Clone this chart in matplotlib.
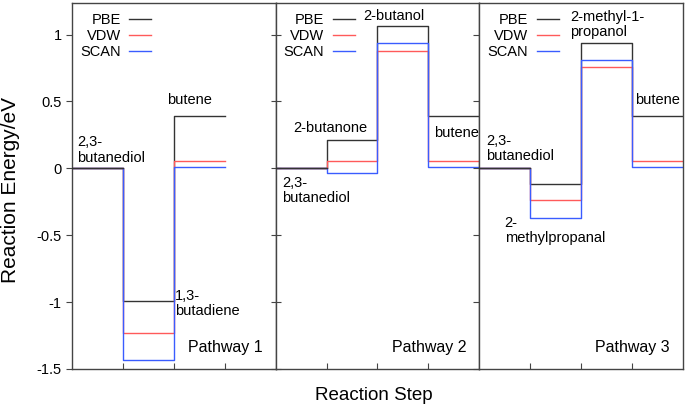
import matplotlib
matplotlib.use("Agg")
import matplotlib.pyplot as plt
import numpy as np

plt.rcParams["font.family"] = ["Liberation Sans", "DejaVu Sans"]

methods = ["PBE", "VDW", "SCAN"]
colors = ["#333333", "#ff5a5a", "#3a5cff"]

# energies per step, one list per method for each pathway
pbe1 = [0.0, -0.99, 0.39]
vdw1 = [0.0, -1.23, 0.057]
scan1 = [0.0, -1.43, 0.01]

pbe2 = [0.0, 0.21, 1.067, 0.39]
vdw2 = [0.0, 0.055, 0.875, 0.057]
scan2 = [0.0, -0.037, 0.94, 0.01]

pbe3 = [0.0, -0.12, 0.94, 0.39]
vdw3 = [0.0, -0.24, 0.76, 0.057]
scan3 = [0.0, -0.37, 0.81, 0.01]

pathways = [
    [pbe1, vdw1, scan1],
    [pbe2, vdw2, scan2],
    [pbe3, vdw3, scan3],
]
pathway_names = ["Pathway 1", "Pathway 2", "Pathway 3"]

# species labels: (x, y, text) in data coords, left aligned, centred vertically
species = [
    [(0.11, 0.137, "2,3-\nbutanediol"),
     (1.86, 0.51, "butene"),
     (2.03, -1.008, "1,3-\nbutadiene")],
    [(0.13, -0.163, "2,3-\nbutanediol"),
     (0.35, 0.305, "2-butanone"),
     (1.73, 1.137, "2-butanol"),
     (3.12, 0.263, "butene")],
    [(0.137, 0.145, "2,3-\nbutanediol"),
     (1.78, 1.075, "2-methyl-1-\npropanol"),
     (3.06, 0.512, "butene"),
     (0.5, -0.467, "2-\nmethylpropanal")],
]

fig = plt.figure(figsize=(6.85, 4.07), dpi=100)
gs = fig.add_gridspec(1, 3, left=0.105, right=0.997, top=0.9926,
                      bottom=0.0934, wspace=0)
axes = [fig.add_subplot(gs[0, i]) for i in range(3)]

for i, ax in enumerate(axes):
    for vals, col, name in zip(pathways[i], colors, methods):
        xs = np.arange(len(vals) + 1)
        ys = vals + [vals[-1]]
        ax.step(xs, ys, where="post", color=col, lw=1.0, label=name)
    # first level drawn in black on top
    ax.plot([0, 1], [pathways[i][0][0]] * 2, color="#333333", lw=1.0, zorder=3)

    for x, y, t in species[i]:
        ax.text(x, y, t, ha="left", va="center", fontsize=10.5,
                linespacing=1.1)
    ax.text(3.74, -1.338, pathway_names[i], ha="right", va="center",
            fontsize=11.5)

    leg = ax.legend(loc="upper left", frameon=False, fontsize=10.5,
                    markerfirst=False, handlelength=1.5, handletextpad=0.6,
                    labelspacing=0.12, borderaxespad=0.3,
                    bbox_to_anchor=(-0.01, 1.0))
    for txt in leg.get_texts():
        txt.set_ha("right")

    ax.set_xlim(0, 4)
    ax.set_ylim(-1.5, 1.236)
    ax.set_xticks([1, 2, 3])
    ax.set_xticklabels([])
    ax.set_yticks([-1.5, -1, -0.5, 0, 0.5, 1])
    ax.tick_params(axis="x", direction="in", length=4, color="#444444")
    for s in ax.spines.values():
        s.set_color("#444444")
        s.set_linewidth(1.0)
    if i == 0:
        ax.tick_params(axis="y", direction="out", length=4, labelsize=10.5,
                       color="#444444")
        ax.set_yticklabels(["-1.5", "-1", "-0.5", "0", "0.5", "1"])
    else:
        ax.tick_params(axis="y", direction="inout" if i == 1 else "out",
                       length=7 if i == 1 else 4, labelleft=False,
                       color="#444444")

fig.text(0.015, 0.533, "Reaction Energy/eV", rotation=90, ha="center",
         va="center", fontsize=15)
fig.text(0.545, 0.029, "Reaction Step", ha="center", va="center",
         fontsize=13.5)

fig.savefig("out.png", dpi=100)
